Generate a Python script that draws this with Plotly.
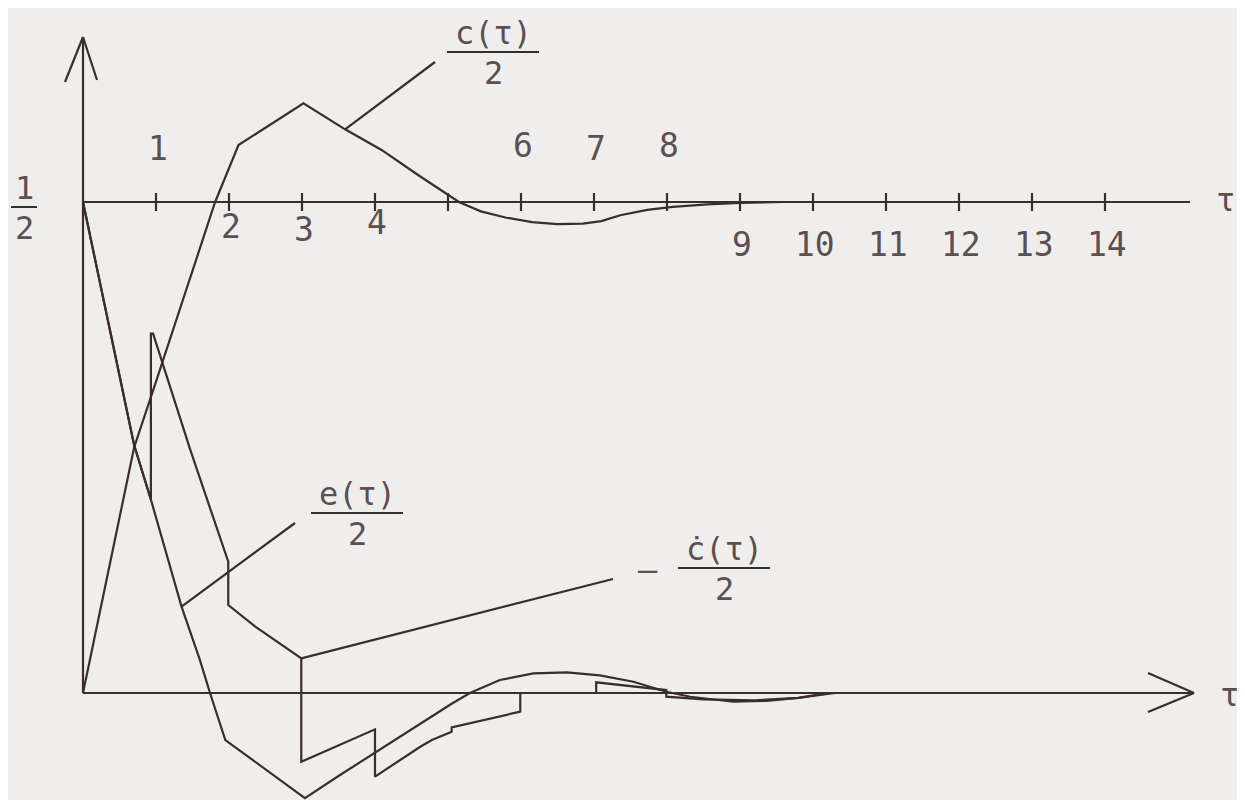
import plotly.graph_objects as go

# c(tau)/2 : output response (upper curve, settles at 1/2)
tau_c = [0, 0.35, 0.70, 1.0, 1.5, 1.81, 2.13, 3.02, 3.59, 4.09, 4.62, 5.15,
         5.45, 5.8, 6.15, 6.5, 6.85, 7.1, 7.36, 7.73, 8.08, 8.55, 9.0, 9.6]
c_half = [0, 0.124, 0.25, 0.317, 0.43, 0.5, 0.558, 0.6005, 0.574, 0.553, 0.526, 0.5,
          0.4905, 0.484, 0.4795, 0.4775, 0.478, 0.4805, 0.4865, 0.492, 0.495, 0.4975, 0.499, 0.5]

# e(tau)/2 : error
tau_e = [0, 0.70, 0.93, 1.35, 1.60, 1.74, 1.95, 3.04, 3.5, 4.0, 4.34, 4.62, 4.80,
         5.05, 5.30, 5.71, 6.17, 6.63, 7.08, 7.54, 7.99, 8.32, 8.91, 9.36, 9.8, 10.2]
e_half = [0.5, 0.2525, 0.197, 0.088, 0.034, 0, -0.048, -0.107, -0.0845, -0.0606, -0.0448,
          -0.031, -0.0224, -0.011, 0, 0.0132, 0.020, 0.021, 0.018, 0.0115, 0.0013,
          -0.0038, -0.0089, -0.008, -0.005, 0]

# cdot(tau)/2 : derivative, with jumps at the sampling instants
tau_d = [0, 0.70, 0.93, 0.93, 0.96, 1.47, 1.99, 1.99, 2.36, 2.99, 2.99, 4.0, 4.0, 4.62,
         4.78, 5.05, 5.05, 5.99, 5.99, 7.03, 7.03, 7.99, 7.99, 8.5, 9.2, 9.8, 10.3]
d_half = [0.5, 0.2525, 0.197, 0.366, 0.366, 0.2475, 0.1337, 0.0896, 0.0675, 0.0353, -0.070,
          -0.037, -0.0852, -0.0547, -0.0479, -0.0394, -0.035, -0.019, 0, 0, 0.0109,
          0.003, -0.0037, -0.0065, -0.0075, -0.005, 0]

ticks = list(range(1, 15))
tick_labels = [str(t) for t in ticks]
level = 0.5

INK = '#3a2d2f'
TXT = '#5b4f51'
PAPER = '#efeeec'
FONT = 'DejaVu Sans Mono'

# the page body adds an 8px margin, so the figure is 8px smaller
# and every pixel position below is taken from the reference minus 8
OFF = 8
W, H = 1245 - OFF, 800 - OFF
X0, KX, Y0, KY = 83, 73.0, 693, 982.0


def tx(px):
    return (px - X0) / KX


def vy(py):
    return (Y0 - py) / KY


fig = go.Figure()
line = dict(color=INK, width=2.2)

for xs, ys in [(tau_c, c_half), (tau_e, e_half), (tau_d, d_half)]:
    fig.add_trace(go.Scatter(x=xs, y=ys, mode='lines', line=line,
                             hoverinfo='skip', showlegend=False))

# leader lines from the curves to their labels
leaders = [
    (tau_c[8], c_half[8], 435, 62),
    (tau_e[3], e_half[3], 295, 523),
    (tau_d[9], d_half[9], 613, 579),
]
for x, y, ex, ey in leaders:
    fig.add_trace(go.Scatter(x=[x, tx(ex)], y=[y, vy(ey)], mode='lines', line=line,
                             hoverinfo='skip', showlegend=False))

shapes = []


def seg(x1, y1, x2, y2, w=2.2):
    shapes.append(dict(type='line', xref='x', yref='y', x0=x1, y0=y1, x1=x2, y1=y2,
                       line=dict(color=INK, width=w)))


# axes
seg(0, 0, 0, vy(37))
seg(tx(65), vy(82), 0, vy(37))
seg(tx(97), vy(80), 0, vy(37))
seg(0, 0, tx(1194), 0)
seg(tx(1148), vy(673), tx(1194), 0)
seg(tx(1148), vy(712), tx(1194), 0)
seg(0, level, tx(1190), level)
for t in ticks:
    seg(t, level + 9 / KY, t, level - 9 / KY)

annotations = []


def label(text, px, py, size=32):
    annotations.append(dict(x=tx(px), y=vy(py), xref='x', yref='y', text=text,
                            showarrow=False, xanchor='center', yanchor='middle',
                            font=dict(family=FONT, size=size, color=TXT)))


# tick label placement: some above, some below the 1/2 line, 5 left out
label_y = {1: 148, 2: 226, 3: 229, 4: 222, 6: 145, 7: 148, 8: 145,
           9: 244, 10: 244, 11: 244, 12: 244, 13: 244, 14: 244}
for t, s in zip(ticks, tick_labels):
    if t in label_y:
        label(s, X0 + KX * t + 2, label_y[t], size=33)


# fraction labels
def fraction(top, bottom, cx, cy, half):
    label(top, cx, cy - 19)
    label(bottom, cx, cy + 21)
    seg(tx(cx - half), vy(cy), tx(cx + half), vy(cy), w=2)


fraction('1', '2', 24, 207, 13)
fraction('c(τ)', '2', 493, 52, 46)
fraction('e(τ)', '2', 357, 513, 46)
fraction('ċ(τ)', '2', 724, 568, 46)
label('–', 648, 570)
label('τ', 1225, 200)
label('τ', 1229, 695)

fig.update_layout(
    width=W, height=H,
    margin=dict(l=0, r=0, t=0, b=0),
    paper_bgcolor=PAPER, plot_bgcolor=PAPER,
    xaxis=dict(range=[tx(OFF), tx(OFF + W)], visible=False, fixedrange=True),
    yaxis=dict(range=[vy(OFF + H), vy(OFF)], visible=False, fixedrange=True),
    shapes=shapes, annotations=annotations,
)

fig.write_html("out.html")
